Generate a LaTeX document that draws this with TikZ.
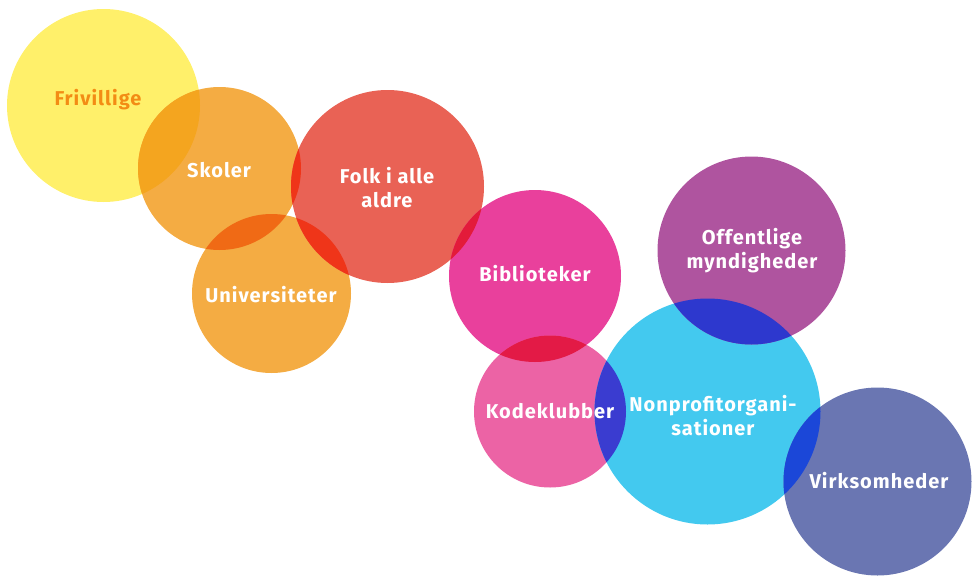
\documentclass[tikz,border=0pt]{standalone}
\usepackage{fontspec}
\setmainfont{Fira Sans}[LetterSpace=5]
\definecolor{cyel}{HTML}{FFF06A}
\definecolor{corg}{HTML}{F4AC43}
\definecolor{cred}{HTML}{E96255}
\definecolor{cmag}{HTML}{E9409C}
\definecolor{cpnk}{HTML}{EC63A5}
\definecolor{ccyn}{HTML}{43C9EF}
\definecolor{cpur}{HTML}{AF549F}
\definecolor{cslt}{HTML}{6A76B2}
\definecolor{oyo}{HTML}{F4A51F}
\definecolor{ooo}{HTML}{F06A15}
\definecolor{oor}{HTML}{EF3519}
\definecolor{orm}{HTML}{E31B3A}
\definecolor{omp}{HTML}{E31A46}
\definecolor{opc}{HTML}{3A3CD0}
\definecolor{ocp}{HTML}{2D38CE}
\definecolor{ocs}{HTML}{1B47D8}
\definecolor{ctxo}{HTML}{F38C14}
\begin{document}
\begin{tikzpicture}[x=1pt,y=-1pt,
  blob/.style={circle,inner sep=0pt,minimum size=#1},
  lbl/.style={text=white,font=\fontsize{20}{24}\selectfont\bfseries,align=center,inner sep=0pt}]
\useasboundingbox (0,0) rectangle (978,576);
% circles
\node[blob=193pt,fill=cyel] (friv) at (103.5,105.5) {};
\node[blob=163pt,fill=corg] (skol) at (219.5,168.5) {};
\node[blob=159pt,fill=corg] (univ) at (271.5,293.5) {};
\node[blob=193pt,fill=cred] (folk) at (387.5,186.5) {};
\node[blob=172pt,fill=cmag] (bibl) at (535,276) {};
\node[blob=152pt,fill=cpnk] (kode) at (550,411.5) {};
\node[blob=226pt,fill=ccyn] (nonp) at (707.5,411.5) {};
\node[blob=188pt,fill=cpur] (offe) at (751.5,250.5) {};
\node[blob=188pt,fill=cslt] (virk) at (877.5,481.5) {};
% overlaps
\begin{scope}\clip (friv.center) circle (96.5pt); \fill[oyo] (skol.center) circle (81.5pt);\end{scope}
\begin{scope}\clip (skol.center) circle (81.5pt); \fill[ooo] (univ.center) circle (79.5pt);\end{scope}
\begin{scope}\clip (skol.center) circle (81.5pt); \fill[oor] (folk.center) circle (96.5pt);\end{scope}
\begin{scope}\clip (univ.center) circle (79.5pt); \fill[oor] (folk.center) circle (96.5pt);\end{scope}
\begin{scope}\clip (folk.center) circle (96.5pt); \fill[orm] (bibl.center) circle (86pt);\end{scope}
\begin{scope}\clip (bibl.center) circle (86pt); \fill[omp] (kode.center) circle (76pt);\end{scope}
\begin{scope}\clip (kode.center) circle (76pt); \fill[opc] (nonp.center) circle (113pt);\end{scope}
\begin{scope}\clip (nonp.center) circle (113pt); \fill[ocp] (offe.center) circle (94pt);\end{scope}
\begin{scope}\clip (nonp.center) circle (113pt); \fill[ocs] (virk.center) circle (94pt);\end{scope}
% labels
\node[lbl,text=ctxo] (tfriv) at (98,100) {Frivillige};
\node[lbl] (tskol) at (219,170) {Skoler};
\node[lbl] (tuniv) at (271,295) {Universiteter};
\node[lbl] (tfolk) at (387,188) {Folk i alle\\aldre};
\node[lbl] (tbibl) at (535,274) {Biblioteker};
\node[lbl] (toffe) at (752,251) {Offentlige\\myndigheder};
\node[lbl] (tkode) at (550,411) {Kodeklubber};
\node[lbl] (tnonp) at (713,416) {Nonprofitorgani-\\sationer};
\node[lbl] (tvirk) at (879,481) {Virksomheder};
\end{tikzpicture}
\end{document}
